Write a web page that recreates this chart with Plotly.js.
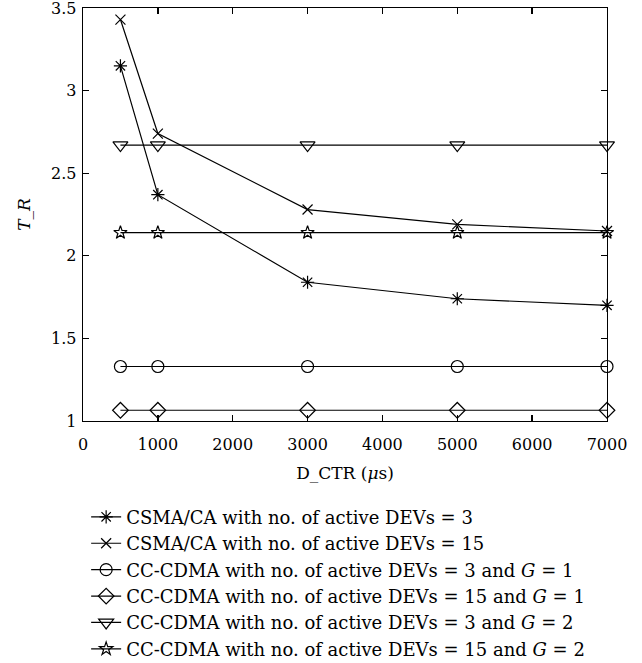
<!DOCTYPE html>
<html>
<head>
<meta charset="utf-8">
<script src="https://cdn.plot.ly/plotly-3.0.1.min.js"></script>
<style>html,body{margin:0;padding:0;background:#fff;}#chart{width:642px;height:663px;}</style>
</head>
<body>
<div id="chart"></div>
<script>
var dctr = [500, 1000, 3000, 5000, 7000];
var csma3 = [3.15, 2.37, 1.84, 1.74, 1.70];
var csma15 = [3.43, 2.74, 2.28, 2.19, 2.15];
var cdma3g1 = [1.33, 1.33, 1.33, 1.33, 1.33];
var cdma15g1 = [1.065, 1.065, 1.065, 1.065, 1.065];
var cdma3g2 = [2.67, 2.67, 2.67, 2.67, 2.67];
var cdma15g2 = [2.14, 2.14, 2.14, 2.14, 2.14];
var names = [
  "CSMA/CA with no. of active DEVs = 3",
  "CSMA/CA with no. of active DEVs = 15",
  "CC-CDMA with no. of active DEVs = 3 and <i>G</i> = 1",
  "CC-CDMA with no. of active DEVs = 15 and <i>G</i> = 1",
  "CC-CDMA with no. of active DEVs = 3 and <i>G</i> = 2",
  "CC-CDMA with no. of active DEVs = 15 and <i>G</i> = 2"
];
var xTicks = [0, 1000, 2000, 3000, 4000, 5000, 6000, 7000];
var yTicks = [1, 1.5, 2, 2.5, 3, 3.5];

var series = [csma3, csma15, cdma3g1, cdma15g1, cdma3g2, cdma15g2];
var symbols = ["asterisk-open", "x-thin-open", "circle-open", "diamond-open", "triangle-down-open", "star-open"];
var sizes = [11, 10, 12, 12, 13, 10];

var traces = series.map(function(s, i){
  return {
    x: dctr, y: s, name: names[i], type: "scatter", mode: "lines+markers",
    cliponaxis: false,
    line: {color: "#000", width: 1.2},
    marker: {symbol: symbols[i], size: sizes[i], color: "#000", line: {color: "#000", width: 1.2}}
  };
});

var fam = "DejaVu Serif";
var tickFont = {family: fam, size: 16, color: "#000"};
var titleFont = {family: fam, size: 17, color: "#000"};
var legendFont = {family: fam, size: 18, color: "#000"};
var layout = {
  width: 642, height: 663,
  margin: {l: 83, r: 35, t: 8, b: 242, autoexpand: false},
  paper_bgcolor: "#fff", plot_bgcolor: "#fff",
  font: tickFont,
  showlegend: true,
  legend: {x: 0.006, xanchor: "left", y: -0.188, yanchor: "top", font: legendFont, bgcolor: "rgba(0,0,0,0)", borderwidth: 0},
  xaxis: {
    range: [0, 7000], tickvals: xTicks, ticktext: xTicks.map(String),
    showgrid: false, zeroline: false, showline: true, linecolor: "#000", linewidth: 1.3,
    mirror: "ticks", ticks: "inside", ticklen: 6, tickcolor: "#000", tickwidth: 1.3,
    tickfont: tickFont, ticklabeloverflow: "allow", ticklabelstandoff: 8,
    title: {text: "D_CTR (<i>μ</i>s)", font: titleFont, standoff: 14}
  },
  yaxis: {
    range: [1, 3.5], tickvals: yTicks, ticktext: yTicks.map(String),
    showgrid: false, zeroline: false, showline: true, linecolor: "#000", linewidth: 1.3,
    mirror: "ticks", ticks: "inside", ticklen: 6, tickcolor: "#000", tickwidth: 1.3,
    tickfont: tickFont, ticklabeloverflow: "allow", ticklabelstandoff: 2,
    title: {text: "<i>T</i>_<i>R</i>", font: titleFont, standoff: 16}
  }
};
Plotly.newPlot("chart", traces, layout, {displayModeBar: false, staticPlot: true});
</script>
</body>
</html>
